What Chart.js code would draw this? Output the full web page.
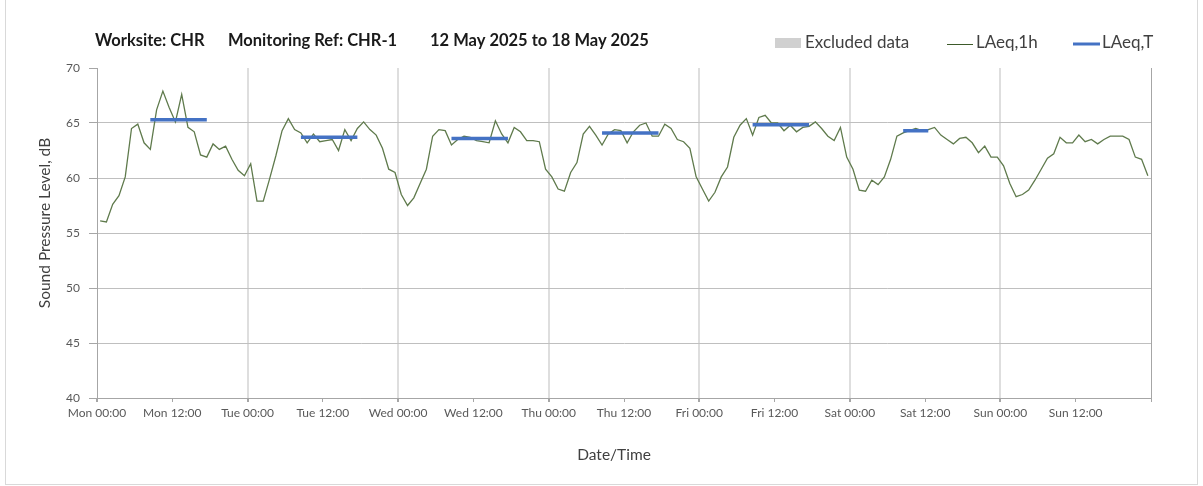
<!DOCTYPE html>
<html>
<head>
<meta charset="utf-8">
<script src="https://cdn.jsdelivr.net/npm/chart.js@4.4.1/dist/chart.umd.min.js"></script>
<style>
  html, body { margin: 0; padding: 0; background: #fff; }
  #wrap { position: relative; width: 1203px; height: 486px; }
</style>
</head>
<body>
<div id="wrap"><canvas id="noiseChart" width="1203" height="486"></canvas></div>
<script>
// hourly LAeq,1h values, one array per day (00:00 .. 23:00)
const dayNames = ['Mon', 'Tue', 'Wed', 'Thu', 'Fri', 'Sat', 'Sun'];
const laeqMon = [56.1, 56.0, 57.6, 58.4, 60.1, 64.5, 64.9, 63.2, 62.6, 66.2, 67.9, 66.4, 65.1, 67.6, 64.6, 64.2, 62.1, 61.9, 63.1, 62.6, 62.9, 61.7, 60.7, 60.2];
const laeqTue = [61.3, 57.9, 57.9, 59.9, 62.0, 64.3, 65.4, 64.4, 64.1, 63.2, 64.0, 63.3, 63.4, 63.5, 62.5, 64.4, 63.4, 64.5, 65.1, 64.4, 63.9, 62.7, 60.8, 60.5];
const laeqWed = [58.5, 57.5, 58.2, 59.5, 60.8, 63.8, 64.4, 64.3, 63.0, 63.5, 63.8, 63.7, 63.4, 63.3, 63.2, 65.2, 64.0, 63.2, 64.6, 64.2, 63.4, 63.4, 63.3, 60.8];
const laeqThu = [60.1, 59.0, 58.8, 60.5, 61.4, 64.0, 64.7, 63.9, 63.0, 64.0, 64.4, 64.3, 63.2, 64.2, 64.8, 65.0, 63.8, 63.8, 64.9, 64.5, 63.5, 63.3, 62.7, 60.1];
const laeqFri = [59.0, 57.9, 58.7, 60.1, 61.0, 63.7, 64.8, 65.4, 63.9, 65.5, 65.7, 65.0, 65.0, 64.3, 64.8, 64.2, 64.6, 64.7, 65.1, 64.5, 63.8, 63.4, 64.6, 61.9];
const laeqSat = [60.8, 58.9, 58.8, 59.8, 59.4, 60.1, 61.7, 63.8, 64.1, 64.3, 64.5, 64.3, 64.4, 64.6, 63.9, 63.5, 63.1, 63.6, 63.7, 63.2, 62.3, 62.9, 61.9, 61.9];
const laeqSun = [61.1, 59.5, 58.3, 58.5, 58.9, 59.8, 60.8, 61.8, 62.2, 63.7, 63.2, 63.2, 63.9, 63.3, 63.5, 63.1, 63.5, 63.8, 63.8, 63.8, 63.5, 61.9, 61.7, 60.2];

// LAeq,T for the working periods (Mon-Fri 08-18, Sat 08-13)
const laeqT = [65.3, 63.7, 63.6, 64.1, 64.85, 64.3];
const periodStart = [8, 8, 8, 8, 8, 8];
const periodEnd = [18, 18, 18, 18, 18, 13];

const yTicks = [40, 45, 50, 55, 60, 65, 70];

const allDays = [laeqMon, laeqTue, laeqWed, laeqThu, laeqFri, laeqSat, laeqSun];
const hourly = [];
allDays.forEach((vals, d) => {
    vals.forEach((v, h) => hourly.push({ x: d * 24 + h + 0.5, y: v }));
});
const periodLine = [];
laeqT.forEach((v, d) => {
    periodLine.push({ x: d * 24 + periodStart[d] + 0.5, y: v });
    periodLine.push({ x: d * 24 + periodEnd[d] - 0.5, y: v });
    periodLine.push({ x: d * 24 + periodEnd[d], y: null });
});

const FONT = 'Lato';

const headerPlugin = {
    id: 'header',
    afterDraw(chart) {
        const ctx = chart.ctx;
        ctx.save();
        // chart area frame
        ctx.strokeStyle = '#d9d9d9';
        ctx.lineWidth = 1;
        ctx.strokeRect(5.5, -1, 1192, 485.5);

        ctx.textBaseline = 'middle';
        ctx.textAlign = 'left';
        ctx.fillStyle = '#1a1a1a';
        ctx.font = 'bold 16.5px ' + FONT;
        ctx.fillText('Worksite: CHR', 95, 41);
        ctx.fillText('Monitoring Ref: CHR-1', 228, 41);
        ctx.fillText('12 May 2025 to 18 May 2025', 430, 41);

        // legend
        ctx.font = '17px ' + FONT;
        ctx.fillStyle = '#d0d0d0';
        ctx.fillRect(775, 38, 26, 10);
        ctx.fillStyle = '#404040';
        ctx.fillText('Excluded data', 805, 43);
        ctx.strokeStyle = '#3d5a2a';
        ctx.lineWidth = 1;
        ctx.beginPath(); ctx.moveTo(947, 44.5); ctx.lineTo(973, 44.5); ctx.stroke();
        ctx.fillText('LAeq,1h', 976, 43);
        ctx.strokeStyle = '#4472c4';
        ctx.lineWidth = 3;
        ctx.beginPath(); ctx.moveTo(1073, 44); ctx.lineTo(1100, 44); ctx.stroke();
        ctx.fillText('LAeq,T', 1102, 43);

        // axis titles
        ctx.font = '15.5px ' + FONT;
        ctx.fillStyle = '#404040';
        ctx.textAlign = 'center';
        ctx.fillText('Date/Time', 614, 455);
        ctx.translate(45, 223);
        ctx.rotate(-Math.PI / 2);
        ctx.fillText('Sound Pressure Level, dB', 0, 0);
        ctx.restore();
    }
};

const ctx = document.getElementById('noiseChart').getContext('2d');
const noiseChart = new Chart(ctx, {
    type: 'line',
    data: {
        datasets: [
            {
                label: 'LAeq,T',
                data: periodLine,
                borderColor: '#4472c4',
                borderWidth: 3.5,
                pointRadius: 0,
                spanGaps: false,
                order: 0
            },
            {
                label: 'LAeq,1h',
                data: hourly,
                borderColor: '#5f7a4c',
                borderWidth: 1.3,
                pointRadius: 0,
                order: 1
            }
        ]
    },
    options: {
        responsive: false,
        animation: false,
        layout: { padding: { top: 68, right: 52, left: 0, bottom: 0 } },
        elements: { line: { tension: 0 } },
        scales: {
            x: {
                type: 'linear',
                min: 0,
                max: 168,
                afterFit: (scale) => { scale.height = 88; },
                ticks: {
                    stepSize: 12,
                    autoSkip: false,
                    maxRotation: 0,
                    padding: 4,
                    color: '#595959',
                    font: { family: FONT, size: 12 },
                    callback: (v) => {
                        if (v >= 168) return '';
                        return dayNames[Math.floor(v / 24)] + ' ' + (v % 24 === 0 ? '00:00' : '12:00');
                    }
                },
                grid: {
                    color: (c) => {
                        const v = c.tick.value;
                        if (v === 168) return '#a6a6a6';
                        if (v === 0 || v % 24 !== 0) return 'rgba(0,0,0,0)';
                        return '#dedede';
                    },
                    lineWidth: (c) => (c.tick.value % 24 === 0 && c.tick.value !== 168 ? 2 : 1),
                    tickColor: '#a6a6a6',
                    tickLength: 4
                },
                border: { color: '#a6a6a6' }
            },
            y: {
                min: 40,
                max: 70,
                afterFit: (scale) => { scale.width = 97; },
                afterBuildTicks: (scale) => { scale.ticks = yTicks.map(v => ({ value: v })); },
                ticks: {
                    padding: 9,
                    color: '#595959',
                    font: { family: FONT, size: 12 }
                },
                grid: {
                    color: (c) => (c.tick.value === 70 ? 'rgba(0,0,0,0)' : '#bfbfbf'),
                    tickColor: '#a6a6a6',
                    tickLength: 8
                },
                border: { color: '#a6a6a6' }
            }
        },
        plugins: {
            legend: { display: false },
            title: { display: false },
            tooltip: { enabled: false }
        }
    },
    plugins: [headerPlugin]
});
</script>
</body>
</html>
